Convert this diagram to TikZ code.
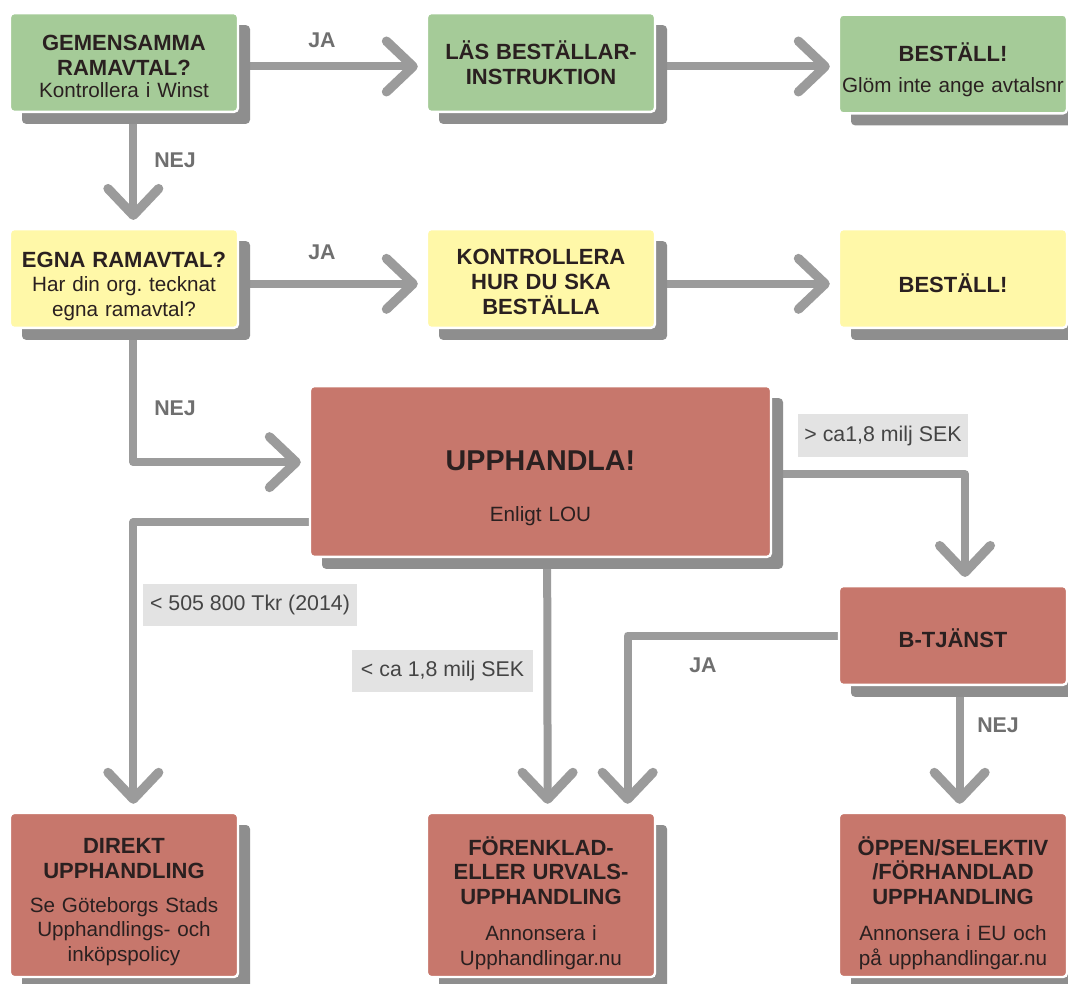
\documentclass[tikz,border=0pt]{standalone}
\usepackage{fontspec}
\setmainfont{Liberation Sans}
\frenchspacing
\usetikzlibrary{arrows.meta, shadows, backgrounds}

\definecolor{boxgreen}{HTML}{A5CB98}
\definecolor{boxyellow}{HTML}{FFF8A8}
\definecolor{boxred}{HTML}{C7776C}
\definecolor{shadowgray}{HTML}{8E8E8E}
\definecolor{linegray}{HTML}{9B9B9B}
\definecolor{labelgray}{HTML}{E3E3E3}
\definecolor{labeltext}{HTML}{444444}
\definecolor{answergray}{HTML}{6F6F6F}
\definecolor{boxtext}{HTML}{2A2020}

\newcommand{\hd}[1]{{\fontsize{16.5}{18.5}\selectfont\bfseries #1}}
% raise the top of the first line, pushes the text block down
\newcommand{\topgap}[1]{\rule{0pt}{#1}}

\tikzset{
  stepbox/.style={draw=white, line width=1.8pt, rounded corners=3pt, text=boxtext,
    minimum width=171pt, minimum height=74pt, text width=171pt, align=center,
    inner sep=0pt, font=\fontsize{15.5}{18.5}\selectfont\frenchspacing,
    drop shadow={shadow xshift=9pt, shadow yshift=-9pt, fill=shadowgray, opacity=1}},
  greenbox/.style={stepbox, fill=boxgreen},
  yellowbox/.style={stepbox, fill=boxyellow},
  redbox/.style={stepbox, fill=boxred},
  condlabel/.style={fill=labelgray, text=labeltext, font=\fontsize{16}{19}\selectfont,
    minimum height=32pt, inner xsep=5pt},
  answer/.style={text=answergray, font=\fontsize{16}{19}\selectfont\bfseries},
  flow/.style={draw=linegray, line width=6pt, line join=round,
    -{Straight Barb[round, length=20pt, width=38pt, line width=7pt]}, shorten >=6pt}
}

\begin{document}
\begin{tikzpicture}[x=0.75pt, y=-0.75pt]
  \useasboundingbox (0,0) rectangle (1068,984);
  % top row
  \node[greenbox] (gem) at (124,62.5) {\topgap{17pt}\hd{GEMENSAMMA\\RAMAVTAL?}\\[-2pt]Kontrollera i Winst};
  \node[greenbox] (las) at (541,62.5) {\hd{LÄS BESTÄLLAR-\\INSTRUKTION}};
  \node[greenbox] (best1) at (953,64) {\topgap{22.4pt}\hd{BESTÄLL!}\\[5pt]Glöm inte ange avtalsnr};
  % second row
  \node[yellowbox] (egna) at (124,278.5) {\topgap{23pt}\hd{EGNA RAMAVTAL?}\\Har din org. tecknat\\egna ramavtal?};
  \node[yellowbox] (kont) at (541,278.5) {\topgap{16.5pt}\hd{KONTROLLERA\\HUR DU SKA\\BESTÄLLA}};
  \node[yellowbox] (best2) at (953,278.5) {\topgap{21.7pt}\hd{BESTÄLL!}};
  % procurement
  \node[redbox, minimum width=345.75pt, minimum height=128pt, text width=320pt] (upph) at (540.5,471.5)
    {\topgap{39.5pt}{\fontsize{21.5}{26}\selectfont\bfseries UPPHANDLA!}\\[20pt]Enligt LOU};
  \node[redbox] (btj) at (953,635.5) {\topgap{18.7pt}\hd{B-TJÄNST}};
  % bottom row
  \node[redbox, minimum height=123pt] (dir) at (124,895)
    {\topgap{21.8pt}\hd{DIREKT\\UPPHANDLING}\\[7pt]Se Göteborgs Stads\\Upphandlings- och\\inköpspolicy};
  \node[redbox, minimum height=123pt] (foer) at (541,895)
    {\topgap{26pt}\hd{FÖRENKLAD-\\ELLER URVALS-\\UPPHANDLING}\\[8.5pt]Annonsera i\\Upphandlingar.nu};
  \node[redbox, minimum height=123pt] (oepp) at (953,895)
    {\topgap{26pt}\hd{ÖPPEN/SELEKTIV\\/FÖRHANDLAD\\UPPHANDLING}\\[8.5pt]Annonsera i EU och\\på upphandlingar.nu};
  % answers and limits
  \node[answer] (ja1) at (322,40) {JA};
  \node[answer] (nej1) at (175,160) {NEJ};
  \node[answer] (ja2) at (322,252) {JA};
  \node[answer] (nej2) at (175,408) {NEJ};
  \node[condlabel, minimum width=127.5pt] (over) at (883,435.5) {> ca1,8 milj SEK};
  \node[condlabel, minimum width=160.5pt] (dirlim) at (250,605) {< 505 800 Tkr (2014)};
  \node[condlabel, minimum width=135.75pt] (under) at (442.5,671) {< ca 1,8 milj SEK};
  \node[answer] (ja3) at (703,665) {JA};
  \node[answer] (nej3) at (998,725) {NEJ};
  % connectors go under the boxes
  \begin{pgfonlayer}{background}
    \fill[white] (0,0) rectangle (1068,984);
    \draw[flow] ([yshift=-3pt]gem.east) -- ([yshift=-3pt]las.west);
    \draw[flow] ([yshift=-3pt]las.east) -- ([yshift=-3pt]las.east -| best1.west);
    \draw[flow] ([xshift=7pt]gem.south) -- ([xshift=7pt]egna.north);
    \draw[flow] ([yshift=-4pt]egna.east) -- ([yshift=-4pt]kont.west);
    \draw[flow] ([yshift=-4pt]kont.east) -- ([yshift=-4pt]best2.west);
    \draw[flow] ([xshift=7pt]egna.south) |- ([yshift=7pt]upph.west);
    \draw[flow] ([yshift=-38pt]upph.west) -| ([xshift=7pt]dir.north);
    \draw[flow] ([xshift=5pt]upph.south) -- ([xshift=5pt]foer.north);
    \draw[flow] ([yshift=-2pt]upph.east) -| ([xshift=9pt]btj.north);
    \draw[flow] (btj.west) -| ([xshift=65pt]foer.north);
    \draw[flow] ([xshift=5pt]btj.south) -- ([xshift=5pt]oepp.north);
  \end{pgfonlayer}
\end{tikzpicture}
\end{document}
